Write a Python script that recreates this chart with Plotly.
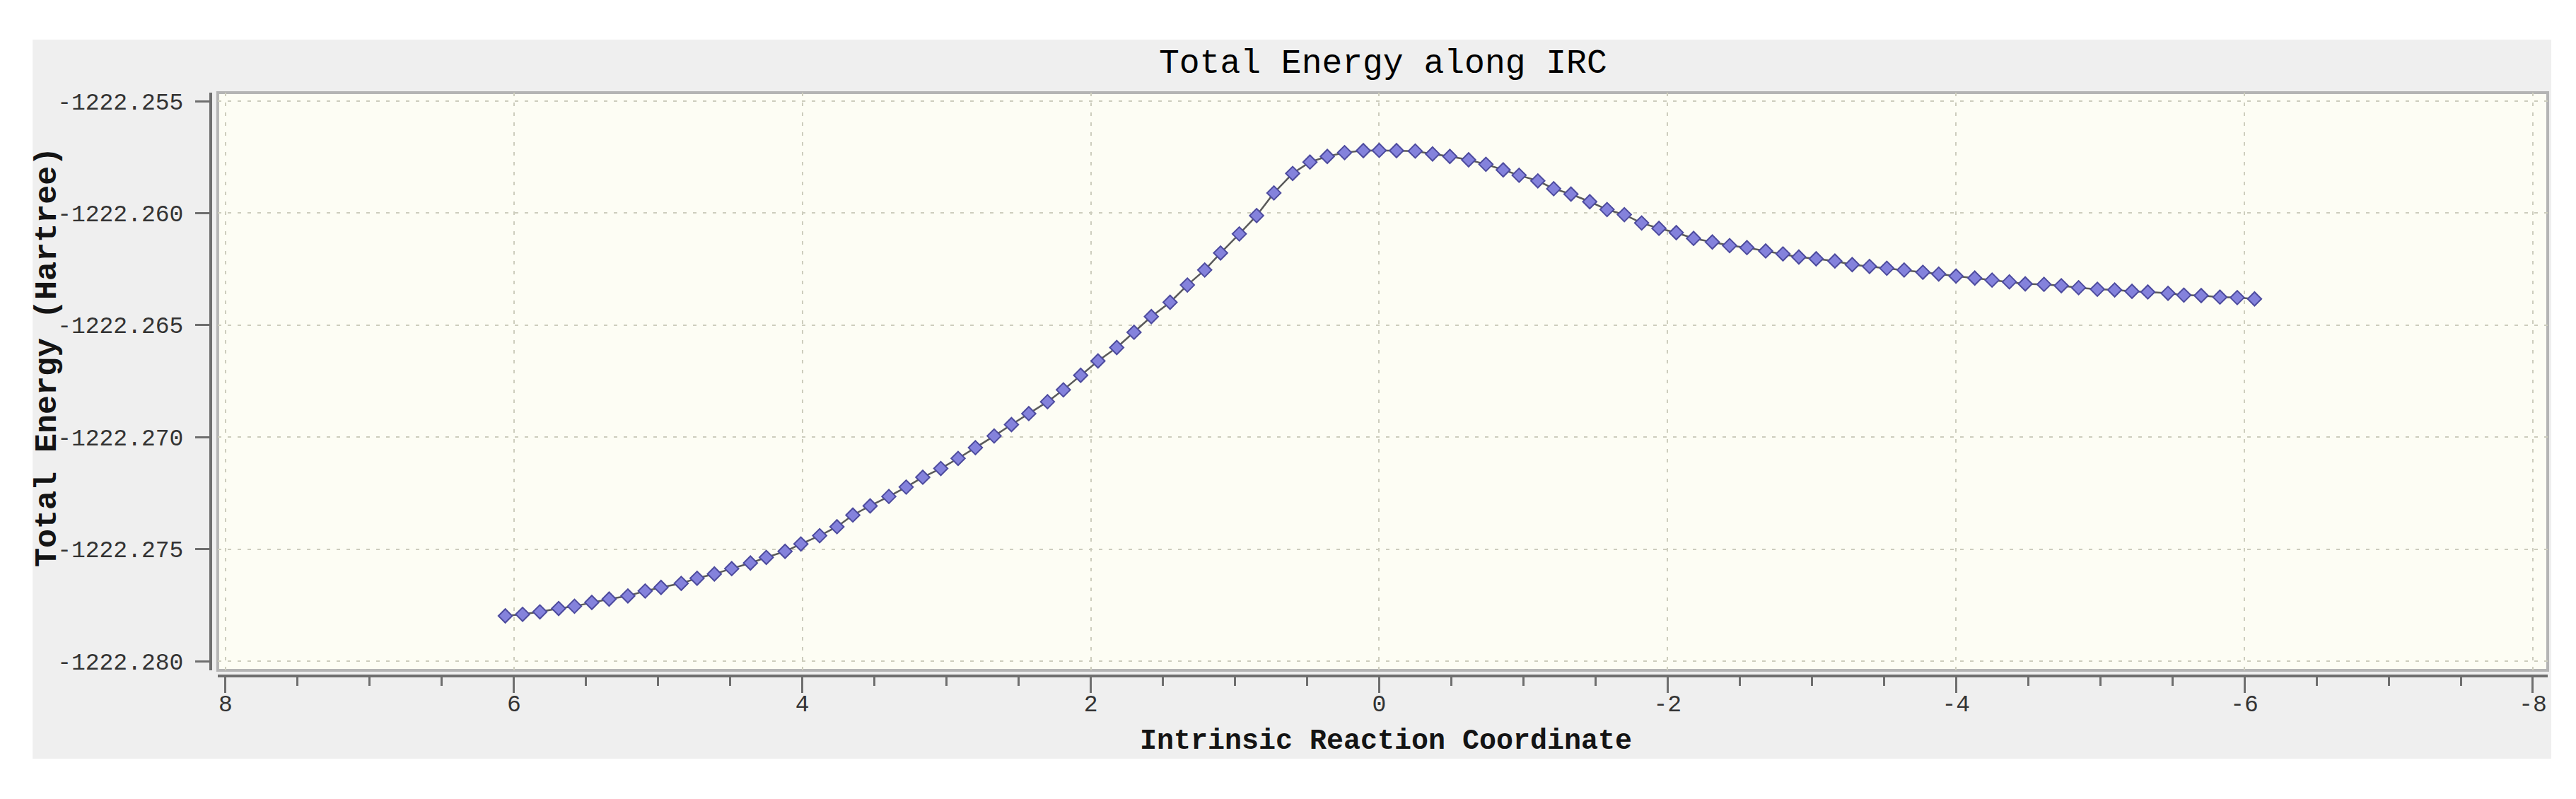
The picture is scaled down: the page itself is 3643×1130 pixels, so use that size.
import plotly.graph_objects as go

# ---------------- data ----------------
irc_coord = [
    6.06, 5.94, 5.82, 5.69, 5.58, 5.46, 5.34, 5.21, 5.09, 4.98,
    4.84, 4.73, 4.61, 4.49, 4.36, 4.25, 4.12, 4.01, 3.88, 3.76,
    3.65, 3.53, 3.40, 3.28, 3.165, 3.04, 2.92, 2.80, 2.67, 2.55,
    2.43, 2.30, 2.19, 2.07, 1.95, 1.82, 1.70, 1.58, 1.45, 1.33,
    1.21, 1.10, 0.97, 0.85, 0.73, 0.60, 0.48, 0.36, 0.24, 0.11,
    0.00, -0.12, -0.25, -0.37, -0.49, -0.62, -0.74, -0.86, -0.97, -1.10,
    -1.21, -1.33, -1.46, -1.58, -1.70, -1.82, -1.94, -2.06, -2.18, -2.31,
    -2.43, -2.55, -2.68, -2.80, -2.91, -3.03, -3.16, -3.28, -3.40, -3.52,
    -3.64, -3.77, -3.88, -4.00, -4.13, -4.25, -4.37, -4.48, -4.61, -4.73,
    -4.85, -4.98, -5.10, -5.22, -5.33, -5.47, -5.58, -5.70, -5.83, -5.95,
    -6.07,
]
total_energy = [
    -1222.27798, -1222.27791, -1222.27780, -1222.27765, -1222.27755,
    -1222.27738, -1222.27723, -1222.27709, -1222.27687, -1222.27671,
    -1222.27653, -1222.27630, -1222.27611, -1222.27587, -1222.27562,
    -1222.27537, -1222.27510, -1222.27477, -1222.27440, -1222.27400,
    -1222.27348, -1222.27307, -1222.27265, -1222.27223, -1222.27179,
    -1222.27140, -1222.27095, -1222.27047, -1222.26995, -1222.26944,
    -1222.26895, -1222.26842, -1222.26789, -1222.26724, -1222.26660,
    -1222.26600, -1222.26532, -1222.26462, -1222.26398, -1222.26321,
    -1222.26254, -1222.26178, -1222.26093, -1222.26011, -1222.25910,
    -1222.25823, -1222.25772, -1222.25747, -1222.25730, -1222.25721,
    -1222.25720, -1222.25721, -1222.25723, -1222.25736, -1222.25747,
    -1222.25762, -1222.25782, -1222.25807, -1222.25831, -1222.25856,
    -1222.25891, -1222.25915, -1222.25949, -1222.25984, -1222.26007,
    -1222.26044, -1222.26068, -1222.26087, -1222.26113, -1222.26129,
    -1222.26145, -1222.26154, -1222.26169, -1222.26182, -1222.26196,
    -1222.26204, -1222.26214, -1222.26230, -1222.26238, -1222.26246,
    -1222.26254, -1222.26264, -1222.26272, -1222.26281, -1222.26290,
    -1222.26299, -1222.26307, -1222.26316, -1222.26318, -1222.26324,
    -1222.26333, -1222.26340, -1222.26343, -1222.26349, -1222.26352,
    -1222.26358, -1222.26366, -1222.26368, -1222.26375, -1222.26377,
    -1222.26383,
]

x_tick_values = [8, 6, 4, 2, 0, -2, -4, -6, -8]
x_tick_labels = ["8", "6", "4", "2", "0", "-2", "-4", "-6", "-8"]
y_tick_values = [-1222.255, -1222.260, -1222.265, -1222.270, -1222.275, -1222.280]
y_tick_labels = ["-1222.255", "-1222.260", "-1222.265", "-1222.270", "-1222.275", "-1222.280"]

title_text = "Total Energy along IRC"
x_title = "Intrinsic Reaction Coordinate"
y_title = "Total Energy (Hartree)"

# ---------------- styling ----------------
W, H = 3643, 1130
FONT = "Liberation Mono, DejaVu Sans Mono, monospace"
AXIS_COLOR = "#6e6e6e"
GRID_COLOR = "#cdcdbd"

fig = go.Figure()
fig.add_trace(go.Scatter(
    x=irc_coord, y=total_energy, mode="lines+markers",
    line=dict(color="#5a5a5a", width=2.5),
    marker=dict(symbol="diamond", size=15, color="#8482dc",
                line=dict(color="#4d4b9e", width=2)),
    showlegend=False,
))

shapes = [
    # grey panel
    dict(type="rect", xref="paper", yref="paper", layer="below",
         x0=-0.0762, x1=1.0015, y0=-0.1418, y1=1.0909,
         fillcolor="#efefef", line=dict(width=0)),
    # light yellow plotting area with grey frame
    dict(type="rect", xref="paper", yref="paper", layer="below",
         x0=0.003, x1=1.0, y0=0.0097, y1=1.0,
         fillcolor="#fdfdf4", line=dict(color="#b4b4b4", width=4)),
]

annotations = [
    dict(text=title_text, xref="paper", yref="paper", x=0.5017, y=1.0497,
         xanchor="center", yanchor="middle", showarrow=False,
         font=dict(family=FONT, size=48, color="#000000")),
    dict(text="<b>" + x_title + "</b>", xref="paper", yref="paper", x=0.503, y=-0.1127,
         xanchor="center", yanchor="middle", showarrow=False,
         font=dict(family=FONT, size=40, color="#141414")),
    dict(text="<b>" + y_title + "</b>", xref="paper", yref="paper", x=-0.0696, y=0.5467,
         xanchor="center", yanchor="middle", showarrow=False, textangle=-90,
         font=dict(family=FONT, size=45, color="#141414")),
]

fig.update_layout(
    width=W, height=H,
    margin=dict(l=290, r=48, t=123, b=182, pad=0),
    paper_bgcolor="white",
    plot_bgcolor="rgba(0,0,0,0)",
    shapes=shapes,
    annotations=annotations,
    xaxis=dict(
        domain=[0.003, 1.0], anchor="free", position=0,
        range=[8.054, -8.103],
        tickmode="array", tickvals=x_tick_values, ticktext=x_tick_labels,
        ticks="outside", ticklen=22, tickwidth=3, tickcolor=AXIS_COLOR,
        minor=dict(tickmode="linear", tick0=0, dtick=0.5, ticks="outside",
                   ticklen=12, tickwidth=3, tickcolor=AXIS_COLOR, showgrid=False),
        showline=True, linecolor=AXIS_COLOR, linewidth=4,
        showgrid=True, gridcolor=GRID_COLOR, gridwidth=2, griddash="5px,9px",
        zeroline=False, ticklabelstandoff=-14,
        tickfont=dict(family=FONT, size=33, color="#333333"),
    ),
    yaxis=dict(
        domain=[0.0097, 1.0], anchor="free", position=0,
        range=[-1222.28041, -1222.254621],
        tickmode="array", tickvals=y_tick_values, ticktext=y_tick_labels,
        ticks="outside", ticklen=20, tickwidth=3, tickcolor=AXIS_COLOR,
        showline=True, linecolor=AXIS_COLOR, linewidth=4,
        showgrid=True, gridcolor=GRID_COLOR, gridwidth=2, griddash="5px,9px",
        zeroline=False, ticklabelstandoff=10,
        tickfont=dict(family=FONT, size=33, color="#333333"),
    ),
)

fig.write_html("out.html")
